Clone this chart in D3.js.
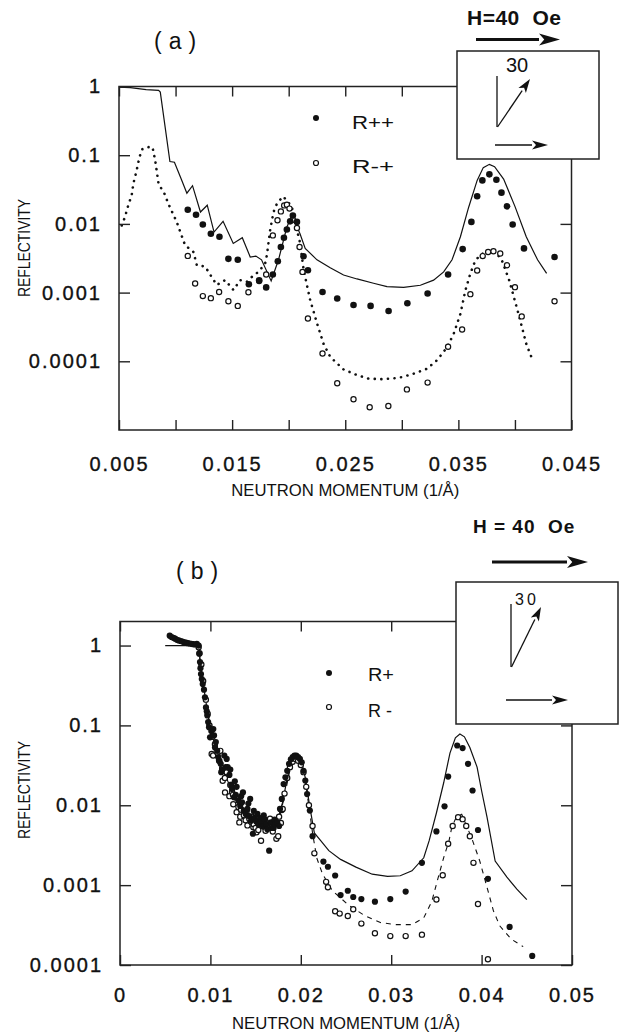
<!DOCTYPE html>
<html>
<head>
<meta charset="utf-8">
<script src="https://cdn.jsdelivr.net/npm/d3@7"></script>
<style>
body { margin: 0; background: #fff; }
svg text { font-family: "Liberation Sans", Arial, Helvetica, sans-serif; fill: #111; }
</style>
</head>
<body>
<svg id="chart" width="621" height="1034"></svg>
<script>
// ---- panel (a): measured R++ and R-+, fits ----
const aPlusPlus = [[0.01108,0.0161],[0.01181,0.0136],[0.01241,0.0098],[0.01312,0.0072],[0.01388,0.0065],[0.01467,0.0031],[0.0155,0.0030],[0.01648,0.00132],[0.01739,0.00151],[0.01801,0.00119],[0.0186,0.00183],[0.01904,0.00286],[0.01931,0.00461],[0.01958,0.0063],[0.01984,0.0083],[0.02013,0.0109],[0.02037,0.0132],[0.02073,0.0107],[0.02131,0.00338],[0.0217,0.00212],[0.02299,0.00102],[0.02429,0.00082],[0.02573,0.00066],[0.02724,0.00064],[0.02883,0.00054],[0.03049,0.0007],[0.03228,0.00097],[0.03409,0.00183],[0.03538,0.0043],[0.03615,0.0107],[0.03666,0.0252],[0.03712,0.043],[0.03774,0.0526],[0.03836,0.044],[0.03881,0.0285],[0.0393,0.018],[0.0398,0.0098],[0.0408,0.0044],[0.0435,0.0033]];
const aMinusPlus = [[0.01108,0.00342],[0.01173,0.00136],[0.01241,0.00089],[0.01312,0.00083],[0.01385,0.00102],[0.01467,0.00075],[0.0155,0.00064],[0.01644,0.00101],[0.01739,0.00147],[0.01801,0.00183],[0.0186,0.0068],[0.01901,0.0113],[0.01931,0.0152],[0.0196,0.0186],[0.01984,0.019],[0.02007,0.0167],[0.02037,0.0115],[0.02073,0.0087],[0.02096,0.00461],[0.02122,0.0020],[0.0217,0.00042],[0.02299,0.00013],[0.02429,0.000048],[0.02573,0.000028],[0.02716,0.0000214],[0.02881,0.0000223],[0.03045,0.000039],[0.03228,0.000049],[0.03409,0.000163],[0.03533,0.00029],[0.03606,0.00095],[0.03666,0.0021],[0.03715,0.0034],[0.03763,0.0039],[0.0381,0.0040],[0.0387,0.0037],[0.0393,0.0025],[0.0400,0.0012],[0.0406,0.00045],[0.0435,0.00075]];
const aFitPlusPlus = [[0.0050,0.98],[0.0060,0.96],[0.0074,0.90],[0.0085,0.88],[0.00865,0.83],[0.0095,0.081],[0.0099,0.079],[0.0105,0.045],[0.0110,0.028],[0.0115,0.036],[0.0122,0.0149],[0.0128,0.0187],[0.0134,0.0076],[0.0142,0.0109],[0.0151,0.0052],[0.0159,0.0063],[0.0166,0.0033],[0.0171,0.0034],[0.0176,0.0030],[0.01845,0.00148],[0.0191,0.0030],[0.01984,0.0090],[0.0203,0.0133],[0.0210,0.0072],[0.02146,0.0044],[0.0225,0.0030],[0.02367,0.0023],[0.02485,0.0018],[0.02604,0.00158],[0.0275,0.00137],[0.02869,0.00122],[0.03016,0.00119],[0.03164,0.00128],[0.03281,0.00152],[0.0337,0.0020],[0.03444,0.0030],[0.03518,0.0065],[0.03591,0.0175],[0.03666,0.043],[0.0372,0.066],[0.03774,0.0736],[0.0382,0.068],[0.0390,0.045],[0.0400,0.018],[0.0410,0.0065],[0.0420,0.0030],[0.0428,0.0019]];
const aFitMinusPlus = [[0.00524,0.0095],[0.00553,0.0126],[0.00582,0.0187],[0.00612,0.0261],[0.00627,0.0386],[0.00656,0.060],[0.00681,0.094],[0.00708,0.124],[0.00761,0.131],[0.00796,0.131],[0.0082,0.084],[0.0085,0.038],[0.0090,0.028],[0.00936,0.0197],[0.0101,0.0107],[0.01084,0.0049],[0.01158,0.0039],[0.01188,0.0025],[0.01261,0.0024],[0.0132,0.00168],[0.01365,0.00129],[0.01438,0.00152],[0.01512,0.00109],[0.01571,0.00152],[0.0163,0.00144],[0.01689,0.00178],[0.01733,0.0020],[0.01792,0.00265],[0.01807,0.0035],[0.01836,0.0081],[0.01866,0.0149],[0.01896,0.0197],[0.01949,0.0251],[0.01984,0.022],[0.02028,0.0176],[0.02073,0.0081],[0.02102,0.0052],[0.02131,0.0022],[0.02161,0.00129],[0.0219,0.00078],[0.0225,0.00036],[0.02308,0.00018],[0.02367,0.000116],[0.02485,0.000076],[0.02604,0.000063],[0.02706,0.000056],[0.0281,0.000055],[0.02913,0.000056],[0.03002,0.000059],[0.03104,0.000066],[0.03223,0.000078],[0.03312,0.000104],[0.034,0.00016],[0.03458,0.00025],[0.03518,0.00049],[0.03562,0.00108],[0.03606,0.00189],[0.0365,0.00295],[0.03695,0.0035],[0.03754,0.0041],[0.0380,0.0042],[0.0388,0.0031],[0.0395,0.0015],[0.0403,0.0005],[0.0410,0.00018],[0.0416,0.0001]];

// ---- panel (b): measured R+ and R-, fits ----
const bPlus = [[0.0055,1.33],[0.0057,1.28],[0.0059,1.25],[0.0061,1.22],[0.0063,1.18],[0.0065,1.16],[0.0067,1.14],[0.0069,1.12],[0.0071,1.10],[0.0073,1.09],[0.0075,1.07],[0.0077,1.06],[0.0079,1.05],[0.0081,1.04],[0.0083,1.03],[0.0085,1.05],[0.0087,1.0],[0.00877,0.79],[0.00885,0.62],[0.0089,0.52],[0.00896,0.44],[0.00905,0.38],[0.00915,0.33],[0.00929,0.28],[0.0094,0.225],[0.00951,0.168],[0.0096,0.15],[0.00966,0.133],[0.00975,0.11],[0.00985,0.095],[0.00996,0.071],[0.0101,0.085],[0.01032,0.090],[0.0104,0.075],[0.01051,0.053],[0.0106,0.062],[0.01075,0.048],[0.01087,0.040],[0.01095,0.036],[0.01114,0.033],[0.0112,0.026],[0.0113,0.028],[0.01154,0.042],[0.0117,0.030],[0.0118,0.038],[0.01191,0.030],[0.0121,0.024],[0.0122,0.028],[0.0123,0.018],[0.0124,0.016],[0.0126,0.0126],[0.0127,0.020],[0.0128,0.0135],[0.0129,0.017],[0.0131,0.0115],[0.0133,0.0098],[0.0134,0.013],[0.0135,0.0109],[0.0136,0.0145],[0.0137,0.0086],[0.0139,0.0078],[0.0141,0.0090],[0.0142,0.0105],[0.0143,0.0073],[0.0144,0.0120],[0.0145,0.0064],[0.0147,0.0044],[0.0148,0.0085],[0.0149,0.0070],[0.0151,0.0062],[0.0152,0.0078],[0.0153,0.0058],[0.0155,0.0069],[0.0156,0.0061],[0.0158,0.0055],[0.0159,0.0075],[0.0160,0.0067],[0.0162,0.0058],[0.0163,0.0050],[0.0165,0.0027],[0.0167,0.0061],[0.0168,0.0052],[0.0170,0.0052],[0.0171,0.0066],[0.0172,0.0058],[0.0174,0.0061],[0.0176,0.0055],[0.0177,0.0090],[0.0179,0.012],[0.0181,0.0184],[0.0183,0.0224],[0.0185,0.027],[0.0187,0.033],[0.0189,0.0377],[0.0191,0.040],[0.0193,0.0418],[0.0195,0.042],[0.0197,0.040],[0.0199,0.038],[0.0201,0.0345],[0.0203,0.027],[0.0205,0.0204],[0.0207,0.0138],[0.0210,0.0086],[0.0213,0.0041],[0.0225,0.00197],[0.0230,0.0017],[0.0238,0.00132],[0.0244,0.00075],[0.0252,0.00085],[0.0258,0.00071],[0.0267,0.00067],[0.0282,0.00062],[0.0299,0.00067],[0.0316,0.00083],[0.0334,0.0019],[0.0350,0.0047],[0.0359,0.0097],[0.0363,0.0229],[0.0373,0.056],[0.0379,0.052],[0.0385,0.033],[0.0390,0.0153],[0.0396,0.0049],[0.0407,0.0012],[0.0431,0.0003],[0.0456,0.00013]];
const bMinus = [[0.0087,0.95],[0.0088,0.80],[0.0090,0.58],[0.0092,0.36],[0.0095,0.21],[0.0097,0.14],[0.0099,0.10],[0.01014,0.044],[0.0102,0.072],[0.0103,0.042],[0.0105,0.058],[0.0108,0.045],[0.0110,0.036],[0.0111,0.048],[0.0113,0.029],[0.01136,0.0203],[0.0116,0.022],[0.01162,0.0145],[0.0118,0.026],[0.0121,0.013],[0.0122,0.018],[0.0124,0.0148],[0.01253,0.0103],[0.0125,0.0135],[0.0128,0.0125],[0.0129,0.0082],[0.0131,0.0095],[0.0132,0.0061],[0.0133,0.0072],[0.0134,0.0088],[0.0137,0.0075],[0.0139,0.0065],[0.0140,0.0084],[0.0141,0.0056],[0.0143,0.0068],[0.0145,0.0062],[0.0146,0.0072],[0.01475,0.0053],[0.0148,0.0058],[0.0150,0.0052],[0.0151,0.0046],[0.0153,0.0049],[0.0155,0.0058],[0.0156,0.0036],[0.0159,0.0054],[0.0161,0.0048],[0.0162,0.0064],[0.0165,0.0060],[0.0166,0.0068],[0.0168,0.0055],[0.0169,0.0047],[0.0170,0.0062],[0.0173,0.0038],[0.0175,0.0041],[0.0176,0.0072],[0.0178,0.0060],[0.01789,0.0087],[0.0180,0.0090],[0.0182,0.0140],[0.0185,0.022],[0.0188,0.030],[0.0191,0.035],[0.0194,0.038],[0.0197,0.036],[0.0200,0.032],[0.0203,0.026],[0.0206,0.017],[0.0209,0.0100],[0.0213,0.0055],[0.0215,0.0025],[0.0228,0.0011],[0.0230,0.00094],[0.0238,0.00047],[0.0243,0.00044],[0.0252,0.00041],[0.0258,0.00050],[0.0267,0.00033],[0.0282,0.00025],[0.0299,0.00023],[0.0316,0.00023],[0.0334,0.00024],[0.0350,0.00066],[0.0357,0.00133],[0.0363,0.0033],[0.0368,0.0055],[0.0374,0.0071],[0.0379,0.0067],[0.0383,0.0055],[0.0387,0.0041],[0.0391,0.0019],[0.0396,0.00058],[0.0407,0.000118]];
const bFitPlus = [[0.0050,1.0],[0.0087,1.0],[0.0089,0.6],[0.0092,0.33],[0.0095,0.2],[0.0098,0.12],[0.0101,0.08],[0.0105,0.06],[0.0109,0.042],[0.0113,0.03],[0.0117,0.023],[0.0121,0.018],[0.0125,0.014],[0.0130,0.011],[0.0135,0.0095],[0.0140,0.0085],[0.0145,0.0072],[0.0150,0.0062],[0.0155,0.0057],[0.0160,0.0058],[0.0165,0.0055],[0.0170,0.0058],[0.0175,0.007],[0.0180,0.011],[0.0185,0.022],[0.0190,0.034],[0.0195,0.042],[0.0200,0.038],[0.0205,0.022],[0.0210,0.0095],[0.0215,0.0045],[0.0222,0.0036],[0.0231,0.0027],[0.0244,0.0021],[0.0261,0.00168],[0.0279,0.00137],[0.0296,0.00129],[0.0310,0.00131],[0.0323,0.00151],[0.0336,0.0022],[0.0342,0.0036],[0.0350,0.008],[0.0358,0.019],[0.0365,0.045],[0.0371,0.070],[0.0376,0.078],[0.0381,0.072],[0.0387,0.053],[0.0395,0.030],[0.0400,0.0152],[0.0406,0.0071],[0.0415,0.0020],[0.0428,0.00126],[0.0439,0.00089],[0.0450,0.00066]];
const bFitMinus = [[0.0087,0.95],[0.0089,0.55],[0.0092,0.32],[0.0095,0.19],[0.0099,0.11],[0.0104,0.065],[0.0110,0.036],[0.0116,0.023],[0.0122,0.016],[0.0130,0.0105],[0.0140,0.0078],[0.0150,0.006],[0.0160,0.0055],[0.0170,0.0055],[0.0176,0.0068],[0.0182,0.013],[0.0188,0.028],[0.0194,0.037],[0.0200,0.033],[0.0205,0.02],[0.0210,0.008],[0.0213,0.0045],[0.02176,0.0022],[0.0224,0.00138],[0.0235,0.00085],[0.0253,0.00056],[0.0270,0.00042],[0.0288,0.00034],[0.0305,0.00032],[0.0323,0.00032],[0.0336,0.00039],[0.0345,0.00063],[0.0351,0.00113],[0.0358,0.0022],[0.0364,0.0036],[0.0367,0.0053],[0.0372,0.0071],[0.0378,0.0077],[0.0389,0.0039],[0.0398,0.0020],[0.0406,0.00094],[0.0413,0.00048],[0.0420,0.00031],[0.0433,0.00021],[0.0446,0.00017]];

const aXTicks = [0.005,0.01,0.015,0.02,0.025,0.03,0.035,0.04,0.045];
const aXLabels = [0.005,0.015,0.025,0.035,0.045];
const bXTicks = [0,0.01,0.02,0.03,0.04,0.05];
const aYTicks = [1e-4,1e-3,1e-2,1e-1,1];
const bYTicks = [1e-4,1e-3,1e-2,1e-1,1];

const svg = d3.select('#chart');
const ink = '#111';

function yFormat(d){
    return d >= 1 ? '1' : d.toFixed(Math.round(-Math.log10(d)));
}

function arrow(g, x1, y1, x2, y2, sw, hl, hw){
    const a = Math.atan2(y2 - y1, x2 - x1);
    const bx = x2 - hl * Math.cos(a), by = y2 - hl * Math.sin(a);
    g.append('line').attr('x1', x1).attr('y1', y1).attr('x2', bx).attr('y2', by)
        .attr('stroke', ink).attr('stroke-width', sw);
    const px = Math.sin(a) * hw / 2, py = -Math.cos(a) * hw / 2;
    g.append('path')
        .attr('d', `M${x2},${y2}L${bx + px},${by + py}L${bx + hl*0.25*Math.cos(a)},${by + hl*0.25*Math.sin(a)}L${bx - px},${by - py}Z`)
        .attr('fill', ink);
}

function drawPanel(p){
    const g = svg.append('g');
    const x = d3.scaleLinear().domain(p.xdom).range([p.left, p.right]);
    const y = d3.scaleLog().domain(p.ydom).range([p.bottom, p.top]);
    const line = d3.line().x(d => x(d[0])).y(d => y(d[1]));

    g.append('path').datum(p.fitPlus).attr('d', line)
        .attr('fill', 'none').attr('stroke', ink).attr('stroke-width', 1.2);
    g.append('path').datum(p.fitMinus).attr('d', line)
        .attr('fill', 'none').attr('stroke', ink)
        .attr('stroke-width', p.dotted ? 2.6 : 1.1)
        .attr('stroke-linecap', p.dotted ? 'round' : 'butt')
        .attr('stroke-dasharray', p.dotted ? '0.1,6.5' : '5,5');

    g.append('g').selectAll('circle').data(p.open).join('circle')
        .attr('cx', d => x(d[0])).attr('cy', d => y(d[1])).attr('r', 2.6)
        .attr('fill', '#fff').attr('stroke', ink).attr('stroke-width', 1.2);
    g.append('g').selectAll('circle').data(p.filled).join('circle')
        .attr('cx', d => x(d[0])).attr('cy', d => y(d[1])).attr('r', p.rf)
        .attr('fill', ink);

    const styleAxis = sel => {
        sel.select('.domain').remove();
        sel.selectAll('.tick line').attr('stroke', '#222').attr('stroke-width', 1.4);
        sel.selectAll('.tick text').attr('font-size', 20).attr('letter-spacing', 2)
            .attr('fill', ink).attr('stroke', ink).attr('stroke-width', 0.35);
    };

    g.append('g').attr('transform', `translate(0,${p.bottom})`)
        .call(d3.axisBottom(x).tickValues(p.xticks).tickSize(-10).tickSizeOuter(0)
            .tickPadding(p.xpad).tickFormat(p.xfmt))
        .call(styleAxis);
    g.append('g').attr('transform', `translate(0,${p.top})`)
        .call(d3.axisTop(x).tickValues(p.xticks).tickSize(-10).tickSizeOuter(0).tickFormat(''))
        .call(styleAxis);
    g.append('g').attr('transform', `translate(${p.left},0)`)
        .call(d3.axisLeft(y).tickValues(p.yticks).tickSize(-11).tickSizeOuter(0)
            .tickPadding(17).tickFormat(yFormat))
        .call(styleAxis);
    g.append('g').attr('transform', `translate(${p.right},0)`)
        .call(d3.axisRight(y).tickValues(p.yticks).tickSize(-11).tickSizeOuter(0).tickFormat(''))
        .call(styleAxis);

    g.append('rect').attr('x', p.left).attr('y', p.top)
        .attr('width', p.right - p.left).attr('height', p.bottom - p.top)
        .attr('fill', 'none').attr('stroke', '#222').attr('stroke-width', 1.5);

    // axis titles
    g.append('text').attr('x', (p.left + p.right) / 2).attr('y', p.xtitleY)
        .attr('text-anchor', 'middle').attr('font-size', 16)
        .attr('textLength', 228).attr('lengthAdjust', 'spacingAndGlyphs')
        .style('font-family', '"Liberation Sans Narrow", "Liberation Sans", Arial, sans-serif')
        .text('NEUTRON MOMENTUM (1/Å)');
    g.append('text').attr('transform', `translate(30,${p.ytitleY}) rotate(-90)`)
        .attr('text-anchor', 'middle').attr('font-size', 16)
        .attr('textLength', 98).attr('lengthAdjust', 'spacingAndGlyphs')
        .style('font-family', '"Liberation Sans Narrow", "Liberation Sans", Arial, sans-serif')
        .text('REFLECTIVITY');

    // panel letter
    g.append('text').attr('x', p.letter[0]).attr('y', p.letter[1])
        .attr('font-size', 23).attr('letter-spacing', 7).text(p.letter[2]);

    // legend
    const L = p.legend;
    g.append('circle').attr('cx', L.x).attr('cy', L.y1).attr('r', 3).attr('fill', ink);
    g.append('circle').attr('cx', L.x).attr('cy', L.y2).attr('r', 2.5)
        .attr('fill', '#fff').attr('stroke', ink).attr('stroke-width', 1.2);
    g.append('text').attr('x', L.tx).attr('y', L.b1).attr('font-size', 18)
        .attr('textLength', L.w1).attr('lengthAdjust', 'spacingAndGlyphs').text(L.t1);
    g.append('text').attr('x', L.tx).attr('y', L.b2).attr('font-size', 18)
        .attr('textLength', L.w2).attr('lengthAdjust', 'spacingAndGlyphs').text(L.t2);

    // field inset
    const I = p.inset;
    g.append('text').attr('x', I.hx).attr('y', I.hy).attr('font-size', I.hfs)
        .attr('font-weight', 'bold').attr('letter-spacing', I.hls)
        .style('white-space', 'pre').text(I.htext);
    arrow(g, I.ax1, I.ay, I.ax2, I.ay, 3, 21, 12);
    g.append('rect').attr('x', I.box[0]).attr('y', I.box[1])
        .attr('width', I.box[2] - I.box[0]).attr('height', I.box[3] - I.box[1])
        .attr('fill', '#fff').attr('stroke', '#222').attr('stroke-width', 1.5);
    g.append('line').attr('x1', I.vx).attr('y1', I.vy1).attr('x2', I.vx).attr('y2', I.vy2)
        .attr('stroke', ink).attr('stroke-width', 1.3);
    arrow(g, I.vx + 0.5, I.vy2, I.tipx, I.tipy, 1.3, 14, 9);
    g.append('text').attr('x', I.nx).attr('y', I.ny).attr('font-size', I.nfs)
        .attr('letter-spacing', I.nls).text('30');
    arrow(g, I.bx1, I.by, I.bx2, I.by, 1.3, 16, 9);
}

drawPanel({
    xdom: [0.005, 0.045], ydom: [1e-5, 1],
    left: 119, right: 571.5, top: 86.5, bottom: 430,
    xticks: aXTicks, yticks: aYTicks, xpad: 27,
    xfmt: d => aXLabels.some(v => Math.abs(v - d) < 1e-9) ? d.toFixed(3) : '',
    filled: aPlusPlus, open: aMinusPlus, fitPlus: aFitPlusPlus, fitMinus: aFitMinusPlus,
    dotted: true, rf: 3.3,
    xtitleY: 496, ytitleY: 248,
    letter: [154, 49, '(a)'],
    legend: {x: 316, y1: 118, y2: 163, tx: 352, b1: 129, b2: 173, w1: 42, w2: 42, t1: 'R++', t2: 'R-+'},
    inset: {hx: 467, hy: 25, hfs: 21, hls: 0.5, htext: 'H=40  Oe', ax1: 476, ax2: 560, ay: 39.5,
        box: [457, 51, 599, 159], vx: 497, vy1: 76, vy2: 127, tipx: 530, tipy: 79,
        nx: 506, ny: 72, nfs: 20, nls: 0, bx1: 495, bx2: 548, by: 145}
});

drawPanel({
    xdom: [0, 0.05], ydom: [1e-4, 2],
    left: 120, right: 572, top: 621.5, bottom: 965,
    xticks: bXTicks, yticks: bYTicks, xpad: 23,
    xfmt: d => d === 0 ? '0' : d.toFixed(2),
    filled: bPlus, open: bMinus, fitPlus: bFitPlus, fitMinus: bFitMinus,
    dotted: false, rf: 3.1,
    xtitleY: 1029, ytitleY: 790,
    letter: [176, 579, '(b)'],
    legend: {x: 329, y1: 673, y2: 707, tx: 368, b1: 681, b2: 717, w1: 26, w2: 24, t1: 'R+', t2: 'R -'},
    inset: {hx: 473, hy: 533, hfs: 19, hls: 1, htext: 'H = 40  Oe', ax1: 492, ax2: 588, ay: 562,
        box: [456, 582, 618, 724], vx: 511, vy1: 604, vy2: 667, tipx: 541, tipy: 607,
        nx: 515, ny: 605, nfs: 16, nls: 3, bx1: 506, bx2: 568, by: 700}
});
</script>
</body>
</html>
